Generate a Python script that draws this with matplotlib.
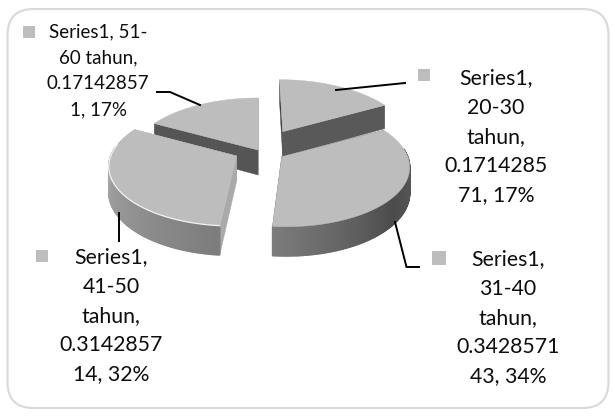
import numpy as np
import matplotlib
matplotlib.use("Agg")
import matplotlib.pyplot as plt
from matplotlib.patches import FancyBboxPatch, Polygon

plt.rcParams['font.family'] = ['Lato', 'DejaVu Sans']

categories = ["20-30 tahun", "31-40 tahun", "41-50 tahun", "51-60 tahun"]
values = [0.171428571, 0.342857143, 0.314285714, 0.171428571]
labels = [
    "Series1,\n20-30\ntahun,\n0.1714285\n71, 17%",
    "Series1,\n31-40\ntahun,\n0.3428571\n43, 34%",
    "Series1,\n41-50\ntahun,\n0.3142857\n14, 32%",
    "Series1, 51-\n60 tahun,\n0.17142857\n1, 17%",
]

# style / layout (pixels)
apex = [(282.7, 131.7), (281.7, 156.7), (236.7, 156.0), (258.0, 150.0)]
label_pos = [(496, 137), (508, 318), (111, 316), (98, 71)]
label_size = [15.3, 15.3, 15.3, 13.5]
label_spacing = [1.58, 1.58, 1.58, 1.63]
squares = [(418, 69, 12), (432, 251, 14), (36, 250, 12), (23, 26, 12)]
leaders = [
    [(405, 83), (336, 90)],
    [(395, 222), (406.5, 267), (419, 267)],
    [(119, 213), (119, 241)],
    [(157, 92), (170, 92), (200, 105)],
]
CX, RX, RY, K, DEPTH = 258.0, 126.0, 59.7, 0.1475, 25.0
TOP = "#bdbdbd"


def project(a, theta, z=0.0):
    """theta clockwise from the top of the pie, degrees; z is drop below the top face."""
    t = np.radians(theta)
    u, v = np.sin(t), np.cos(t)
    s = 1.0 / (1.0 + K * v)
    x = a[0] + RX * u * s + (a[0] - CX) * (s - 1.0)
    y = a[1] - RY * v * s + z * DEPTH * s
    return x, y


def apex_pt(a, z=0.0):
    return a[0], a[1] + z * DEPTH


def wall_gray(theta):
    g = np.interp(theta % 360, [0, 60, 90, 130, 185, 240, 280, 360],
                  [0x60, 0x5c, 0x5c, 0x4c, 0x7c, 0x98, 0xac, 0xac])
    g = g / 255.0
    return (g, g, g)


fig = plt.figure(figsize=(6.13, 4.17), dpi=100, facecolor="white")
ax = fig.add_axes([0, 0, 1, 1])
ax.set_xlim(0, 613)
ax.set_ylim(417, 0)
ax.axis("off")

ax.add_patch(FancyBboxPatch((7.5 + 26, 9 + 26), 601 - 52, 399 - 52,
                            boxstyle="round,pad=26,rounding_size=26",
                            fc="white", ec="#d9d9d9", lw=1.5, zorder=0))

edges = np.concatenate([[0], np.cumsum(values) * 360.0])
slices = [(i, edges[i], edges[i + 1]) for i in range(len(values))]
z = 1
for i, t0, t1 in [slices[3], slices[0], slices[2], slices[1]]:
    a = apex[i]
    # cut faces
    cut_cols = {0: ("#404040", "#595959"), 1: ("#555555", "#555555"),
                2: ("#aaaaaa", "#a8a8a8"), 3: ("#555555", "#555555")}[i]
    if i == 2:
        cut_list = [(t1, cut_cols[1]), (t0, cut_cols[0])]
    else:
        cut_list = [(t0, cut_cols[0]), (t1, cut_cols[1])]
    for th, col in cut_list:
        pts = [apex_pt(a), project(a, th), project(a, th, 1), apex_pt(a, 1)]
        ax.add_patch(Polygon(pts, closed=True, fc=col, ec=col, lw=0.3, zorder=z))
        z += 1
    # outer wall drawn as short strips, only the part facing the viewer
    th = np.linspace(t0, t1, int((t1 - t0) * 1.5) + 2)
    for p, q in zip(th[:-1], th[1:]):
        m = (p + q) / 2
        if 90 - 8 < m % 360 < 270 + 8:
            col = wall_gray(m)
            pts = [project(a, p), project(a, q), project(a, q, 1), project(a, p, 1)]
            ax.add_patch(Polygon(pts, closed=True, fc=col, ec=col, lw=1.0, zorder=z))
            z += 1
    # top face
    arc = [project(a, t) for t in np.linspace(t0, t1, 200)]
    ax.add_patch(Polygon([apex_pt(a)] + arc, closed=True, fc=TOP, ec=TOP, lw=0.3, zorder=z))
    z += 1
    if i == 2:
        xs, ys = zip(*arc[:170])
        ax.plot(xs, ys, color="#f2f2f2", lw=0.9, zorder=z)
        z += 1

for pts in leaders:
    xs, ys = zip(*pts)
    ax.plot(xs, ys, color="black", lw=1.4, zorder=z, solid_joinstyle="miter")

for (x, y, s) in squares:
    ax.add_patch(Polygon([(x, y), (x + s, y), (x + s, y + s), (x, y + s)],
                         closed=True, fc=TOP, ec="none", zorder=z))

for txt, (x, y), fs, ls in zip(labels, label_pos, label_size, label_spacing):
    ax.text(x, y, txt, ha="center", va="center", fontsize=fs, linespacing=ls,
            color="#0d0d0d", zorder=z + 1)

fig.savefig("out.png", dpi=100)
